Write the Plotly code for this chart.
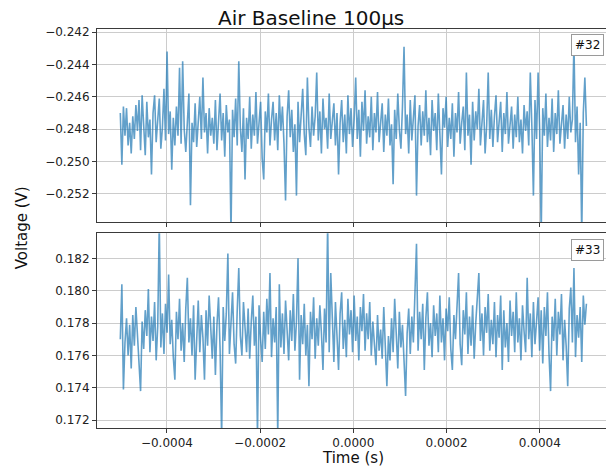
import numpy as np
import plotly.graph_objects as go

# ---- data ----
n_samples = 300
t_start, t_end = -0.0005, 0.0005

voltage_32 = [
    -0.2470, -0.2502, -0.2466, -0.2484, -0.2467, -0.2490, -0.2476, -0.2495, -0.2472, -0.2486,
    -0.2465, -0.2481, -0.2462, -0.2493, -0.2459, -0.2478, -0.2496, -0.2463, -0.2485, -0.2474,
    -0.2508, -0.2470, -0.2459, -0.2488, -0.2475, -0.2461, -0.2492, -0.2479, -0.2455, -0.2487,
    -0.2432, -0.2483, -0.2469, -0.2505, -0.2473, -0.2490, -0.2466, -0.2484, -0.2442, -0.2489,
    -0.2438, -0.2480, -0.2494, -0.2471, -0.2458, -0.2527, -0.2476, -0.2488, -0.2464, -0.2491,
    -0.2477, -0.2460, -0.2486, -0.2448, -0.2482, -0.2470, -0.2495, -0.2467, -0.2484, -0.2473,
    -0.2489, -0.2462, -0.2493, -0.2476, -0.2458, -0.2487, -0.2470, -0.2497, -0.2465, -0.2482,
    -0.2474, -0.2545, -0.2468, -0.2485, -0.2461, -0.2490, -0.2438, -0.2479, -0.2494, -0.2467,
    -0.2511, -0.2473, -0.2486, -0.2460, -0.2492, -0.2471, -0.2484, -0.2457, -0.2489, -0.2476,
    -0.2463, -0.2498, -0.2511, -0.2469, -0.2482, -0.2458, -0.2490, -0.2474, -0.2463, -0.2487,
    -0.2470, -0.2493, -0.2459, -0.2481, -0.2466, -0.2489, -0.2524, -0.2472, -0.2456, -0.2485,
    -0.2468, -0.2494, -0.2477, -0.2521, -0.2463, -0.2488, -0.2470, -0.2455, -0.2483, -0.2496,
    -0.2448, -0.2479, -0.2491, -0.2466, -0.2484, -0.2472, -0.2445, -0.2487, -0.2469, -0.2495,
    -0.2461, -0.2480, -0.2473, -0.2492, -0.2458, -0.2486, -0.2475, -0.2464, -0.2490, -0.2470,
    -0.2508, -0.2476, -0.2462, -0.2488, -0.2471, -0.2495, -0.2459, -0.2483, -0.2467, -0.2491,
    -0.2474, -0.2448, -0.2486, -0.2468, -0.2497, -0.2463, -0.2481, -0.2456, -0.2489, -0.2472,
    -0.2485, -0.2460, -0.2493, -0.2470, -0.2482, -0.2457, -0.2488, -0.2475, -0.2464, -0.2494,
    -0.2471, -0.2484, -0.2461, -0.2490, -0.2477, -0.2514, -0.2468, -0.2486, -0.2458, -0.2480,
    -0.2492, -0.2466, -0.2429, -0.2483, -0.2471, -0.2495, -0.2462, -0.2487, -0.2474, -0.2459,
    -0.2521, -0.2478, -0.2465, -0.2490, -0.2469, -0.2484, -0.2456, -0.2488, -0.2473, -0.2496,
    -0.2462, -0.2481, -0.2470, -0.2493, -0.2458, -0.2485, -0.2508, -0.2467, -0.2479, -0.2460,
    -0.2491, -0.2473, -0.2486, -0.2464, -0.2497, -0.2470, -0.2482, -0.2457, -0.2489, -0.2476,
    -0.2466, -0.2493, -0.2445, -0.2484, -0.2471, -0.2502, -0.2463, -0.2487, -0.2469, -0.2480,
    -0.2455, -0.2490, -0.2474, -0.2462, -0.2495, -0.2478, -0.2445, -0.2486, -0.2468, -0.2491,
    -0.2472, -0.2459, -0.2488, -0.2475, -0.2463, -0.2494, -0.2470, -0.2483, -0.2457, -0.2489,
    -0.2477, -0.2466, -0.2492, -0.2471, -0.2485, -0.2460, -0.2488, -0.2474, -0.2495, -0.2465,
    -0.2481, -0.2469, -0.2490, -0.2445, -0.2478, -0.2521, -0.2462, -0.2486, -0.2445, -0.2480,
    -0.2545, -0.2467, -0.2484, -0.2458, -0.2491, -0.2473, -0.2487, -0.2461, -0.2494, -0.2470,
    -0.2483, -0.2456, -0.2489, -0.2475, -0.2465, -0.2492, -0.2471, -0.2486, -0.2460, -0.2482,
    -0.2474, -0.2427, -0.2488, -0.2466, -0.2508, -0.2476, -0.2545, -0.2470, -0.2448, -0.2478,
]

voltage_33 = [
    0.1770, 0.1804, 0.1739, 0.1768, 0.1783, 0.1760, 0.1779, 0.1752, 0.1785, 0.1766,
    0.1790, 0.1771, 0.1758, 0.1738, 0.1781, 0.1764, 0.1788, 0.1772, 0.1801, 0.1762,
    0.1784, 0.1769, 0.1793, 0.1757, 0.1778, 0.1842, 0.1765, 0.1786, 0.1761, 0.1792,
    0.1774, 0.1810, 0.1767, 0.1782, 0.1759, 0.1745, 0.1787, 0.1770, 0.1795, 0.1763,
    0.1780, 0.1756, 0.1789, 0.1808, 0.1768, 0.1783, 0.1760, 0.1791, 0.1745, 0.1776,
    0.1794, 0.1762, 0.1785, 0.1771, 0.1745, 0.1788, 0.1766, 0.1797, 0.1773, 0.1758,
    0.1784, 0.1748, 0.1779, 0.1796, 0.1764, 0.1710, 0.1790, 0.1769, 0.1786, 0.1823,
    0.1761, 0.1782, 0.1799, 0.1767, 0.1755, 0.1788, 0.1814, 0.1772, 0.1760, 0.1793,
    0.1775, 0.1762, 0.1789, 0.1758, 0.1781, 0.1797, 0.1766, 0.1784, 0.1710, 0.1791,
    0.1770, 0.1756, 0.1787, 0.1764, 0.1795, 0.1773, 0.1811, 0.1759, 0.1783, 0.1768,
    0.1790, 0.1710, 0.1804, 0.1765, 0.1786, 0.1761, 0.1794, 0.1772, 0.1757, 0.1788,
    0.1769, 0.1798, 0.1763, 0.1781, 0.1820, 0.1745, 0.1785, 0.1767, 0.1792, 0.1760,
    0.1779, 0.1741, 0.1787, 0.1770, 0.1796, 0.1758, 0.1783, 0.1766, 0.1791, 0.1774,
    0.1751, 0.1789, 0.1768, 0.1842, 0.1762, 0.1811, 0.1777, 0.1756, 0.1793, 0.1771,
    0.1751, 0.1786, 0.1799, 0.1764, 0.1782, 0.1759, 0.1795, 0.1773, 0.1788, 0.1762,
    0.1797, 0.1769, 0.1784, 0.1757, 0.1790, 0.1775, 0.1798, 0.1763, 0.1786, 0.1770,
    0.1793, 0.1760, 0.1781, 0.1767, 0.1754, 0.1785, 0.1763, 0.1776, 0.1758, 0.1790,
    0.1766, 0.1741, 0.1772, 0.1757, 0.1783, 0.1762, 0.1795, 0.1769, 0.1752, 0.1787,
    0.1765, 0.1779, 0.1756, 0.1735, 0.1774, 0.1789, 0.1761, 0.1784, 0.1768, 0.1796,
    0.1829, 0.1763, 0.1787, 0.1770, 0.1792, 0.1751, 0.1783, 0.1799, 0.1766, 0.1780,
    0.1759, 0.1791, 0.1772, 0.1786, 0.1762, 0.1797, 0.1768, 0.1783, 0.1757, 0.1789,
    0.1775, 0.1796, 0.1764, 0.1751, 0.1785, 0.1770, 0.1793, 0.1811, 0.1767, 0.1754,
    0.1788, 0.1773, 0.1799, 0.1761, 0.1784, 0.1766, 0.1791, 0.1758, 0.1780, 0.1795,
    0.1811, 0.1769, 0.1786, 0.1760, 0.1790, 0.1774, 0.1798, 0.1763, 0.1782, 0.1767,
    0.1793, 0.1759, 0.1785, 0.1771, 0.1797, 0.1751, 0.1788, 0.1765, 0.1780, 0.1756,
    0.1794, 0.1772, 0.1787, 0.1762, 0.1799, 0.1768, 0.1783, 0.1757, 0.1791, 0.1775,
    0.1762, 0.1808, 0.1770, 0.1786, 0.1759, 0.1793, 0.1767, 0.1781, 0.1796, 0.1763,
    0.1788, 0.1755, 0.1790, 0.1772, 0.1799, 0.1761, 0.1738, 0.1784, 0.1769, 0.1795,
    0.1760, 0.1787, 0.1773, 0.1798, 0.1757, 0.1782, 0.1766, 0.1741, 0.1789, 0.1802,
    0.1768, 0.1814, 0.1759, 0.1785, 0.1771, 0.1790, 0.1756, 0.1797, 0.1779, 0.1792,
]

x_tickvals = [-0.0004, -0.0002, 0.0, 0.0002, 0.0004]
x_ticktext = ["\u22120.0004", "\u22120.0002", "0.0000", "0.0002", "0.0004"]
y1_tickvals = [-0.252, -0.250, -0.248, -0.246, -0.244, -0.242]
y1_ticktext = ["\u22120.252", "\u22120.250", "\u22120.248", "\u22120.246", "\u22120.244", "\u22120.242"]
y2_tickvals = [0.172, 0.174, 0.176, 0.178, 0.180, 0.182]
y2_ticktext = ["0.172", "0.174", "0.176", "0.178", "0.180", "0.182"]

title_text = "Air Baseline 100\u00b5s"
x_label = "Time (s)"
y_label = "Voltage (V)"
tag_top = "#32"
tag_bottom = "#33"

time_s = np.linspace(t_start, t_end, n_samples)

# ---- styling ----
FONT = "DejaVu Sans"
LINE_COLOR = "rgba(31,119,180,0.7)"
GRID = "#cccccc"
SPINE = "#3a3a3a"

fig = go.Figure()
fig.add_trace(go.Scatter(x=time_s, y=voltage_32, mode="lines",
                         line=dict(color=LINE_COLOR, width=1.6),
                         xaxis="x", yaxis="y", showlegend=False))
fig.add_trace(go.Scatter(x=time_s, y=voltage_33, mode="lines",
                         line=dict(color=LINE_COLOR, width=1.6),
                         xaxis="x2", yaxis="y2", showlegend=False))

xrange = [-0.000550, 0.000542]
common_x = dict(range=xrange, tickvals=x_tickvals, ticktext=x_ticktext,
                showgrid=True, gridcolor=GRID, gridwidth=1, zeroline=False,
                showline=True, linecolor=SPINE, linewidth=1, mirror=True,
                ticks="outside", ticklen=4, tickcolor=SPINE, tickwidth=1,
                tickfont=dict(family=FONT, size=12, color="#222"))
common_y = dict(showgrid=True, gridcolor=GRID, gridwidth=1, zeroline=False,
                showline=True, linecolor=SPINE, linewidth=1, mirror=False,
                ticks="outside", ticklen=4, tickcolor=SPINE, tickwidth=1,
                tickfont=dict(family=FONT, size=12, color="#222"))

tag_style = dict(xanchor="right", yanchor="top", showarrow=False,
                 bgcolor="white", bordercolor="#9a9a9a", borderwidth=1, borderpad=3,
                 font=dict(family=FONT, size=12, color="#111"))

fig.update_layout(
    width=606, height=468,
    margin=dict(l=97, r=0, t=29, b=40),
    paper_bgcolor="white", plot_bgcolor="white",
    font=dict(family=FONT, color="#222"),
    xaxis=dict(**common_x, anchor="y", domain=[0, 1], showticklabels=False),
    yaxis=dict(**common_y, anchor="x", domain=[0.5163, 1.0],
               range=[-0.25373, -0.24181], tickvals=y1_tickvals, ticktext=y1_ticktext),
    xaxis2=dict(**common_x, anchor="y2", domain=[0, 1], matches="x"),
    yaxis2=dict(**common_y, anchor="x2", domain=[0.0, 0.488],
                range=[0.17152, 0.18355], tickvals=y2_tickvals, ticktext=y2_ticktext),
    annotations=[
        dict(text=title_text, xref="paper", yref="paper", x=0.4204, y=1.0276,
             xanchor="center", yanchor="middle", showarrow=False,
             font=dict(family=FONT, size=20, color="#111")),
        dict(text=x_label, xref="paper", yref="paper", x=0.503, y=-0.0752,
             xanchor="center", yanchor="middle", showarrow=False,
             font=dict(family=FONT, size=15, color="#111")),
        dict(text=y_label, xref="paper", yref="paper", x=-0.147, y=0.501,
             xanchor="center", yanchor="middle", showarrow=False, textangle=-90,
             font=dict(family=FONT, size=15, color="#111")),
        dict(text=tag_top, xref="x domain", yref="y domain", x=0.996, y=0.972, **tag_style),
        dict(text=tag_bottom, xref="x2 domain", yref="y2 domain", x=0.996, y=0.972, **tag_style),
    ],
)

fig.write_html("out.html",
               config={"displayModeBar": False, "staticPlot": True},
               post_script="document.body.style.margin='0';document.body.style.overflow='hidden';")
